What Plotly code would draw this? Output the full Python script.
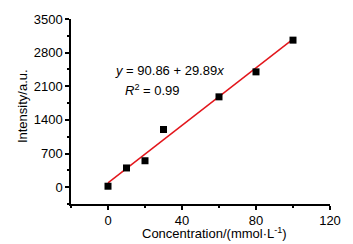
import numpy as np
import plotly.graph_objects as go

concentration = [0, 10, 20, 30, 60, 80, 100]
intensity = [20, 400, 550, 1200, 1880, 2400, 3060]
intercept = 90.86
slope = 29.89
r_squared = 0.99

fit_x = [0, 100]
fit_y = [intercept + slope * v for v in fit_x]

FONT = "Liberation Sans, Arial, sans-serif"

fig = go.Figure()
fig.add_trace(go.Scatter(x=fit_x, y=fit_y, mode="lines",
                         line=dict(color="#e3161c", width=1.5), showlegend=False))
fig.add_trace(go.Scatter(x=concentration, y=intensity, mode="markers",
                         marker=dict(symbol="square", size=7, color="black"), showlegend=False))

axis_common = dict(showline=True, linecolor="black", linewidth=1.5, ticks="outside",
                   ticklen=4, tickwidth=1.5, tickcolor="black", showgrid=False, zeroline=False,
                   mirror=False, tickfont=dict(family=FONT, size=13, color="black"))

fig.update_xaxes(range=[-20, 120], tickvals=[0, 40, 80, 120],
                 minor=dict(ticks="outside", ticklen=2, tickwidth=1.5, tickcolor="black",
                            tickvals=[-20, 20, 60, 100]),
                 **axis_common)
fig.update_yaxes(range=[-350, 3500], tickvals=[0, 700, 1400, 2100, 2800, 3500],
                 minor=dict(ticks="outside", ticklen=2, tickwidth=1.5, tickcolor="black",
                            tickvals=[-350, 350, 1050, 1750, 2450, 3150]),
                 **axis_common)

fig.update_layout(
    width=353, height=244,
    margin=dict(l=71, r=23, t=15, b=40),
    plot_bgcolor="white", paper_bgcolor="white",
    font=dict(family=FONT, size=13, color="black"),
    annotations=[
        dict(text=f"<i>y</i> = {intercept:.2f} + {slope:.2f}<i>x</i>", xref="paper", yref="paper",
             x=0.162, y=0.72, xanchor="left", yanchor="middle", showarrow=False,
             font=dict(family=FONT, size=13)),
        dict(text=f"<i>R</i><sup>2</sup> = {r_squared:.2f}", xref="paper", yref="paper",
             x=0.201, y=0.614, xanchor="left", yanchor="middle", showarrow=False,
             font=dict(family=FONT, size=13)),
        dict(text="Concentration/(mmol·L<sup>-1</sup>)", xref="paper", yref="paper",
             x=(214 - 71) / 259, y=(204 - 234) / 189, xanchor="center", yanchor="middle",
             showarrow=False, font=dict(family=FONT, size=13)),
        dict(text="Intensity/a.u.", xref="paper", yref="paper",
             x=(22 - 71) / 259, y=(204 - 104) / 189, xanchor="center", yanchor="middle",
             textangle=-90, showarrow=False, font=dict(family=FONT, size=13)),
    ],
)

fig.write_html("out.html", config={"displayModeBar": False},
               post_script="document.body.style.margin='0';document.body.style.overflow='hidden';")
